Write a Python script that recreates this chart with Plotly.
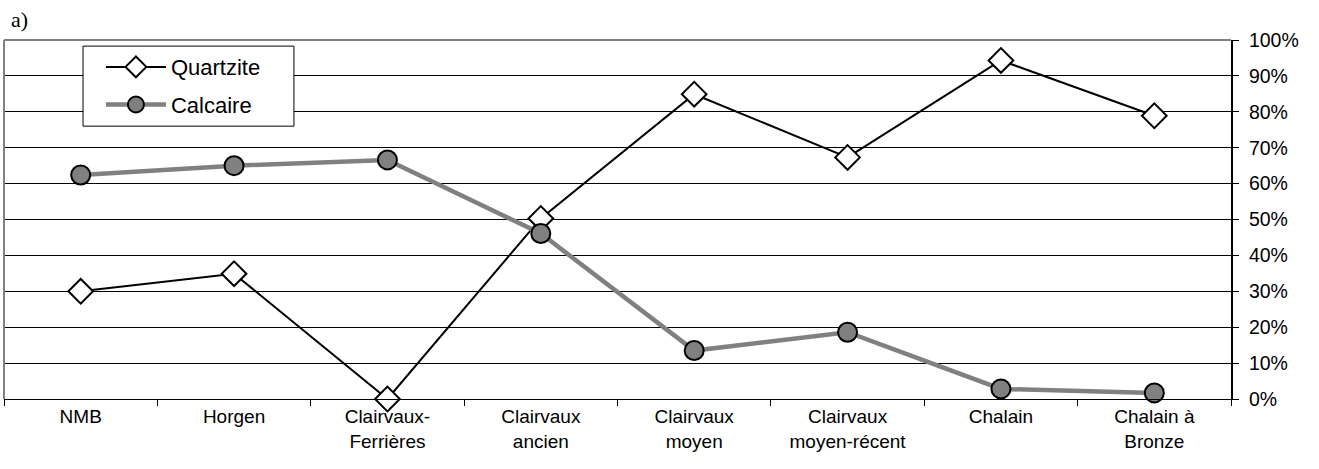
import plotly.graph_objects as go

categories = ["NMB", "Horgen", "Clairvaux-<br>Ferrières", "Clairvaux<br>ancien",
              "Clairvaux<br>moyen", "Clairvaux<br>moyen-récent", "Chalain", "Chalain à<br>Bronze"]
quartzite = [30.0, 34.9, 0.0, 50.3, 84.9, 67.3, 94.3, 78.9]
calcaire = [62.4, 65.0, 66.6, 46.1, 13.5, 18.6, 2.8, 1.7]
y_ticks = list(range(0, 101, 10))
y_ticklabels = [f"{v}%" for v in y_ticks]

fig = go.Figure()
fig.add_trace(go.Scatter(
    x=categories, y=quartzite, name="Quartzite", mode="lines+markers", legendgroup="q",
    line=dict(color="black", width=2), cliponaxis=False, legendrank=1,
    marker=dict(symbol="diamond", size=19, color="white", line=dict(color="black", width=2)),
))
fig.add_trace(go.Scatter(
    x=categories, y=calcaire, name="Calcaire", mode="lines+markers", legendgroup="c",
    line=dict(color="#808080", width=4.5), cliponaxis=False, legendrank=2,
    marker=dict(symbol="circle", size=19, color="#808080", line=dict(color="black", width=2)),
))

fig.update_layout(
    width=1319, height=469,
    margin=dict(l=4, r=88, t=40, b=70),
    paper_bgcolor="white", plot_bgcolor="white",
    font=dict(family="Liberation Sans, Arial, sans-serif", size=19, color="black"),
    showlegend=True,
    legend=dict(x=0.079, y=0.983, xanchor="left", yanchor="top",
                borderwidth=0, bgcolor="rgba(0,0,0,0)",
                font=dict(size=22), tracegroupgap=6, traceorder="grouped",
                itemwidth=60),
    xaxis=dict(type="category", tickson="boundaries", ticks="outside", ticklen=6,
               tickcolor="black", showline=True, linecolor="black", linewidth=1,
               showgrid=False, tickfont=dict(size=19), range=[-0.5, 7.5]),
    yaxis=dict(side="right", range=[0, 100], tickvals=y_ticks, ticktext=y_ticklabels,
               ticks="outside", ticklen=6, tickcolor="black", ticklabelstandoff=6,
               showline=True, linecolor="black", linewidth=2,
               showgrid=True, gridcolor="black", gridwidth=1, zeroline=False,
               tickfont=dict(size=19.5)),
)
# gray top and left border of the plot area
fig.add_shape(type="line", xref="paper", yref="paper", x0=0, x1=1, y0=1, y1=1,
              line=dict(color="#808080", width=2))
fig.add_shape(type="line", xref="paper", yref="paper", x0=0, x1=0, y0=0, y1=1,
              line=dict(color="#808080", width=2))
# legend frame
fig.add_shape(type="rect", xref="paper", yref="paper", x0=0.0644, x1=0.2363, y0=0.760, y1=0.983,
              line=dict(color="black", width=1), fillcolor="white", layer="above")
fig.add_annotation(text="a)", xref="paper", yref="paper", x=0.004, y=1.0,
                   xanchor="left", yanchor="bottom", yshift=6, showarrow=False,
                   font=dict(family="Liberation Serif, Times New Roman, serif", size=22))

fig.write_html("out.html", config={"displayModeBar": False},
               post_script="document.body.style.margin='0';document.body.style.padding='0';")
